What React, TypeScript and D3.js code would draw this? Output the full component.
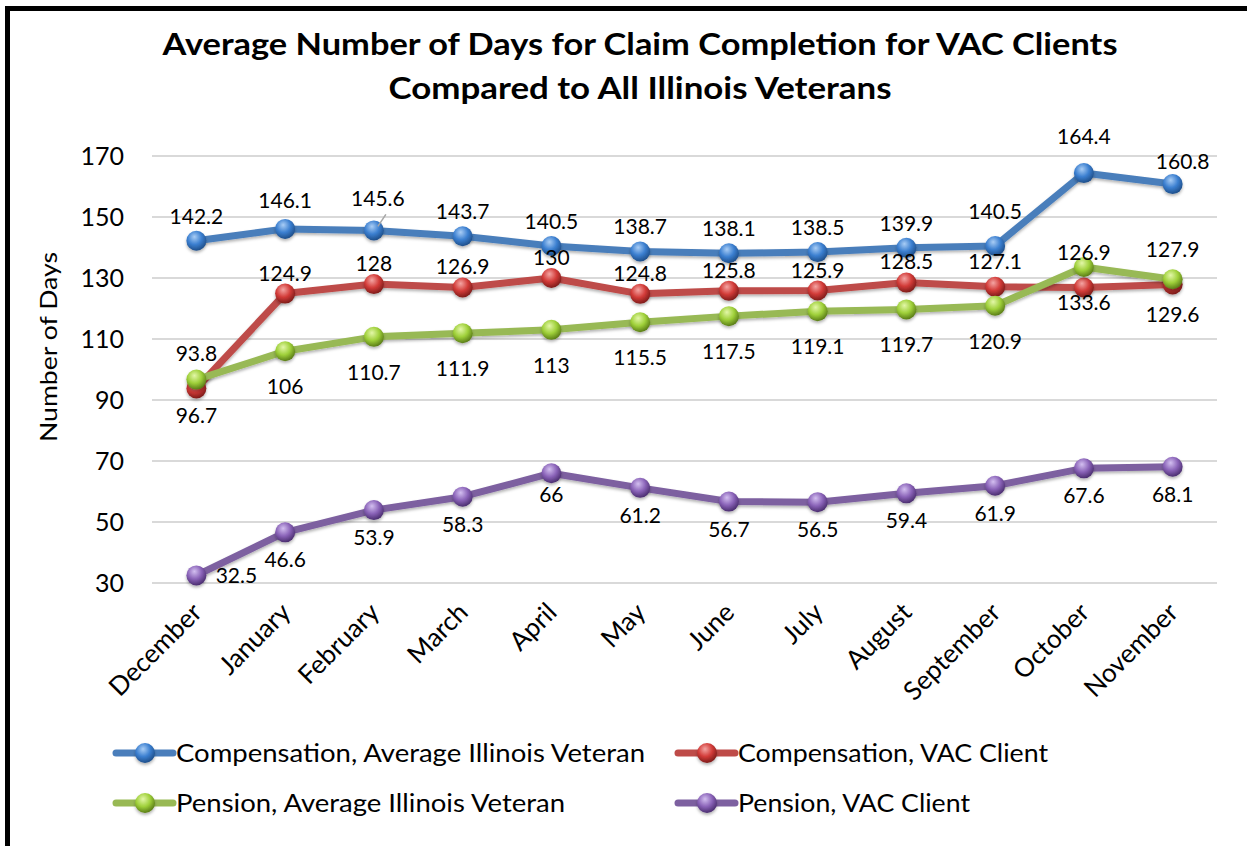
import React from "react";
import * as d3 from "d3";

const months = ["December","January","February","March","April","May","June","July","August","September","October","November"];
const compAvgIL = [142.2,146.1,145.6,143.7,140.5,138.7,138.1,138.5,139.9,140.5,164.4,160.8];
const compVAC = [93.8,124.9,128,126.9,130,124.8,125.8,125.9,128.5,127.1,126.9,127.9];
const pensAvgIL = [96.7,106,110.7,111.9,113,115.5,117.5,119.1,119.7,120.9,133.6,129.6];
const pensVAC = [32.5,46.6,53.9,58.3,66,61.2,56.7,56.5,59.4,61.9,67.6,68.1];
const yTicks = [30,50,70,90,110,130,150,170];

const titleLines = ["Average Number of Days for Claim Completion for VAC Clients","Compared to All Illinois Veterans"];
const yTitle = "Number of Days";

type Series = { name: string; values: number[]; line: string; base: string; light: string; dark: string; labelDy: number; legendTL: number };
const series: Series[] = [
  { name: "Compensation, Average Illinois Veteran", values: compAvgIL, line: "#4a7ebb", base: "#3b7fd0", light: "#a9cdf5", dark: "#1f4f8a", labelDy: -17, legendTL: 469 },
  { name: "Compensation, VAC Client", values: compVAC, line: "#be4b48", base: "#d23b38", light: "#f4a5a3", dark: "#7e1c1a", labelDy: -13, legendTL: 310 },
  { name: "Pension, Average Illinois Veteran", values: pensAvgIL, line: "#98b954", base: "#9fd03a", light: "#e3f7a8", dark: "#5a7d17", labelDy: 43, legendTL: 389 },
  { name: "Pension, VAC Client", values: pensVAC, line: "#7d60a0", base: "#8a63b8", light: "#d3bff0", dark: "#4b2e70", labelDy: 35, legendTL: 232 },
];

// label nudges (series index -> point index -> [dx, dy])
const nudges: Record<string, [number, number]> = {
  "0-1": [0, -4], "0-2": [4, -7], "0-9": [0, -10], "0-10": [0, -12], "0-11": [10, 2],
  "1-0": [0, -14], "1-8": [0, -1], "1-9": [0, -5], "1-10": [0, -14], "1-11": [0, -14],
  "3-0": [40, -27], "3-4": [0, -6],
};

const W = 1247, H = 846;
const FONT = "Lato, 'Open Sans', sans-serif";

export default function App() {
  const x = d3.scaleBand<string>().domain(months).range([152, 1217]).padding(0);
  const xc = (m: string) => (x(m) as number) + x.bandwidth() / 2;
  const y = d3.scaleLinear().domain([30, 170]).range([583, 156]);
  const lineGen = d3.line<number>().x((_, i) => xc(months[i])).y((d) => y(d));

  const legendPos = [
    { lx: 116, ly: 753 },
    { lx: 678, ly: 753 },
    { lx: 116, ly: 803 },
    { lx: 678, ly: 803 },
  ];

  return (
    <svg width={W} height={H} style={{ position: "absolute", left: 0, top: 0, background: "#fff" }} fontFamily={FONT}>
      <defs>
        {series.map((s, i) => (
          <radialGradient key={i} id={`g${i}`} cx="0.42" cy="0.35" r="0.65" fx="0.4" fy="0.3">
            <stop offset="0" stopColor={s.light} />
            <stop offset="0.55" stopColor={s.base} />
            <stop offset="1" stopColor={s.dark} />
          </radialGradient>
        ))}
        <filter id="sh" x="-20%" y="-20%" width="140%" height="160%">
          <feDropShadow dx="0" dy="2" stdDeviation="1.5" floodColor="#000" floodOpacity="0.3" />
        </filter>
      </defs>
      <rect x={0} y={0} width={W} height={H} fill="#fff" />
      <path d={`M7.5,${H} V8.5 H${W}`} fill="none" stroke="#000" strokeWidth={5} />

      {titleLines.map((t, i) => (
        <text key={i} x={640} y={i === 0 ? 55 : 99} textAnchor="middle" fontWeight="bold" fontSize={31}
          textLength={i === 0 ? 955 : 503} lengthAdjust="spacingAndGlyphs" fill="#000">{t}</text>
      ))}

      {yTicks.map((t) => (
        <g key={t}>
          <line x1={152} x2={1217} y1={y(t)} y2={y(t)} stroke="#d9d9d9" strokeWidth={2} />
          <text x={124} y={y(t)} dy="0.35em" textAnchor="end" fontSize={25} fill="#000">{t}</text>
        </g>
      ))}

      <text transform={`translate(57,347) rotate(-90)`} textAnchor="middle" fontSize={23} textLength={190} lengthAdjust="spacingAndGlyphs" fill="#000">{yTitle}</text>

      {months.map((m) => (
        <text key={m} transform={`translate(${xc(m) + 7},${614}) rotate(-45)`} textAnchor="end" fontSize={26} fill="#000">{m}</text>
      ))}

      {series.map((s, si) => (
        <path key={si} d={lineGen(s.values) || ""} fill="none" stroke={s.line} strokeWidth={7} strokeLinejoin="round" strokeLinecap="round" filter="url(#sh)" />
      ))}
      {series.map((s, si) => (
        <g key={si}>
          {s.values.map((v, i) => (
            <circle key={i} cx={xc(months[i])} cy={y(v)} r={10} fill={`url(#g${si})`} filter="url(#sh)" />
          ))}
        </g>
      ))}
      <line x1={xc(months[2]) + 4} y1={y(compAvgIL[2]) - 4} x2={xc(months[2]) + 12} y2={y(compAvgIL[2]) - 16} stroke="#a6a6a6" strokeWidth={1.5} />
      {series.map((s, si) => (
        <g key={si}>
          {s.values.map((v, i) => {
            const n = nudges[`${si}-${i}`] || [0, 0];
            return (
              <text key={i} x={xc(months[i]) + n[0]} y={y(v) + s.labelDy + n[1]} textAnchor="middle" fontSize={21} fill="#000">{v}</text>
            );
          })}
        </g>
      ))}

      {series.map((s, si) => {
        const p = legendPos[si];
        return (
          <g key={si}>
            <line x1={p.lx} x2={p.lx + 57} y1={p.ly} y2={p.ly} stroke={s.line} strokeWidth={7} strokeLinecap="round" />
            <circle cx={p.lx + 29} cy={p.ly} r={10} fill={`url(#g${si})`} filter="url(#sh)" />
            <text x={p.lx + 60} y={p.ly} dy="0.35em" fontSize={25} textLength={s.legendTL} lengthAdjust="spacingAndGlyphs" fill="#000">{s.name}</text>
          </g>
        );
      })}
    </svg>
  );
}
